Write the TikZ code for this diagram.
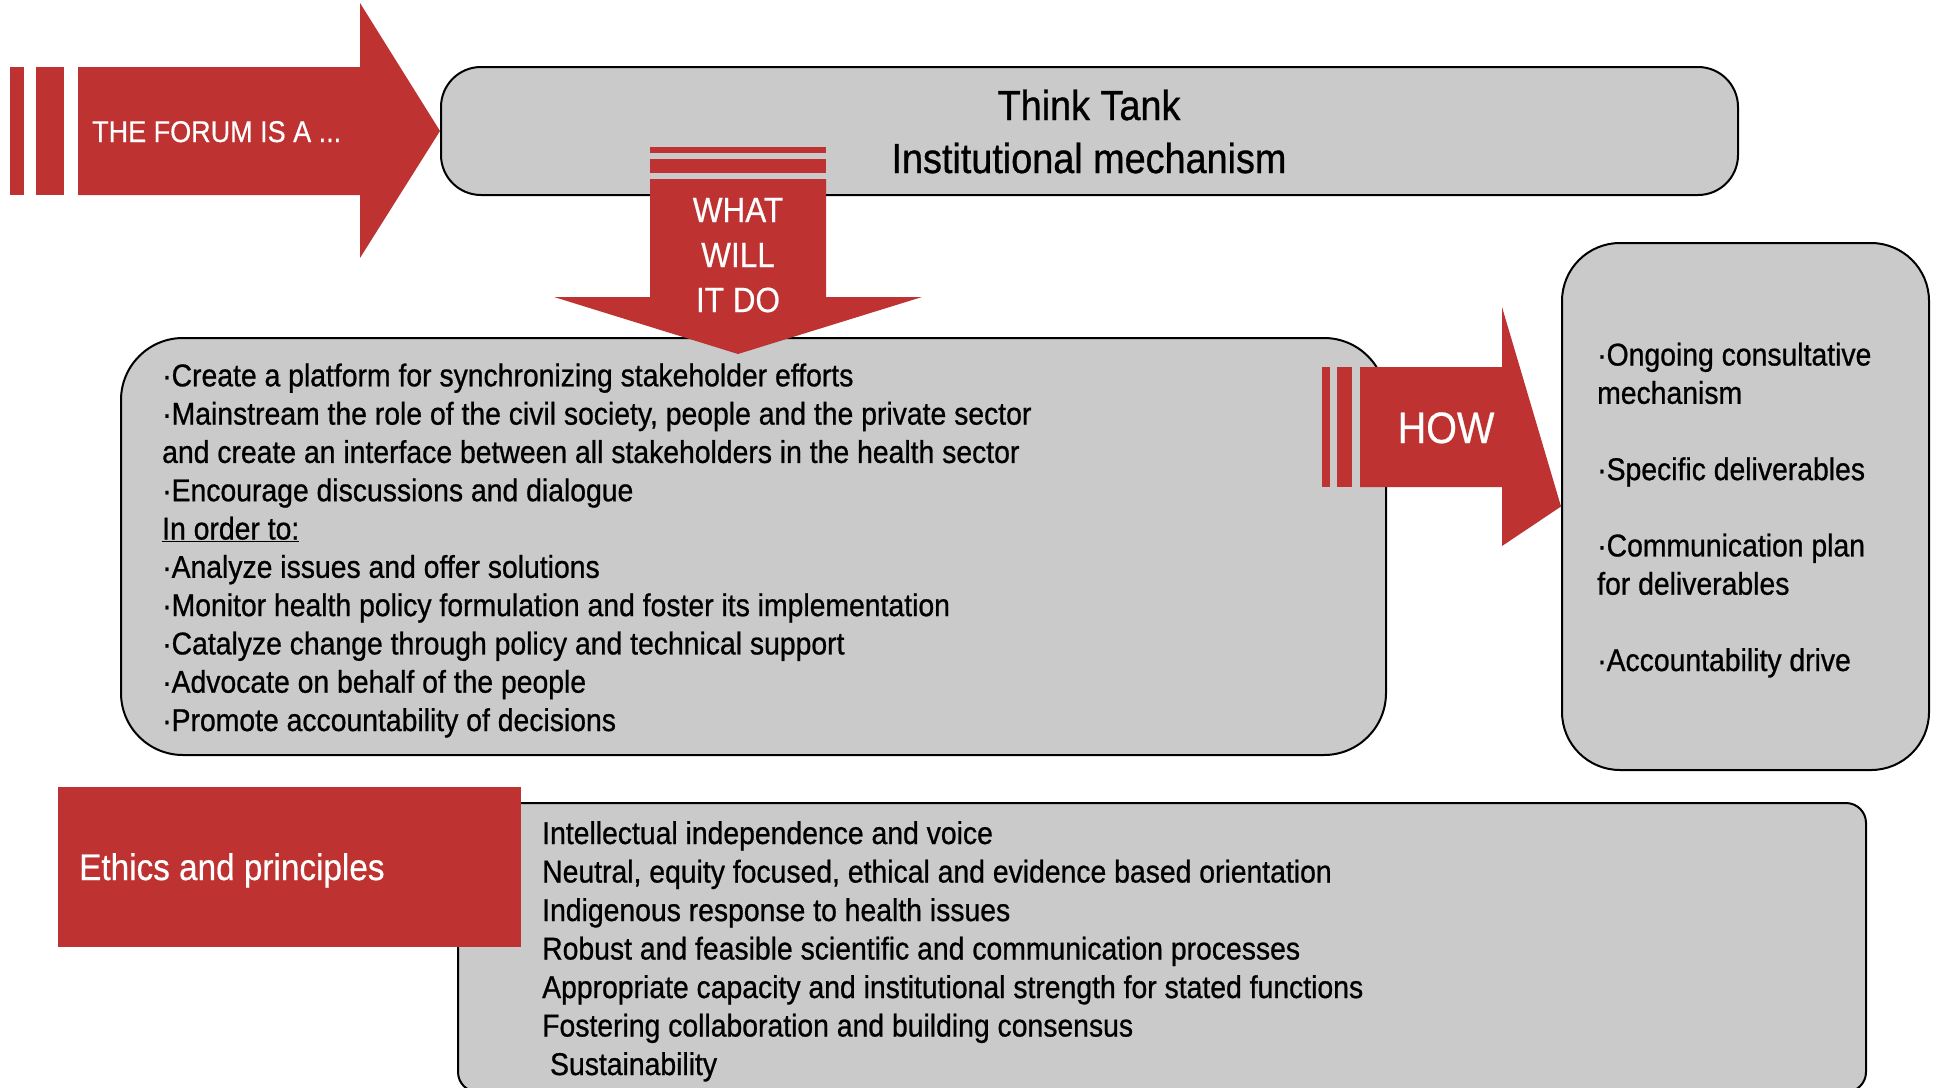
\documentclass[tikz,border=0pt]{standalone}
\usepackage{fontspec}
\setmainfont{Liberation Sans}[FakeStretch=0.9, FakeBold=0.8]
\newfontfamily\labelfont{Liberation Sans}[FakeStretch=0.9, FakeBold=0.5]
\definecolor{forumred}{RGB}{190,50,50}
\definecolor{boxgrey}{RGB}{202,202,202}
\tikzset{
  greybox/.style={draw=black, line width=2pt, fill=boxgrey, inner sep=0pt},
  redbox/.style={fill=forumred, inner sep=0pt},
  listtext/.style={anchor=base west, align=left, inner sep=0pt, font=\fontsize{31.5}{38.3}\selectfont},
  redlabel/.style={text=white, inner sep=0pt}
}
\begin{document}
\begin{tikzpicture}[x=1pt, y=-1pt]
  \clip (0,0) rectangle (1937,1087);

  % Define boxes
  \node (thinktank) [greybox, rounded corners=40pt, minimum width=1297pt, minimum height=128pt] at (1089.5,131) {};
  \node (actions) [greybox, rounded corners=62pt, minimum width=1265pt, minimum height=417pt] at (753.5,546.5) {};
  \node (means) [greybox, rounded corners=58pt, minimum width=367pt, minimum height=527pt] at (1745.5,506.5) {};
  \node (principles) [greybox, rounded corners=20pt, minimum width=1408pt, minimum height=289pt] at (1162,947.5) {};
  \node (ethics) [redbox, minimum width=463pt, minimum height=160pt] at (289.5,867) {};

  % Draw block arrows
  \fill[forumred] (10,67) rectangle (24,195);
  \fill[forumred] (36,67) rectangle (64,195);
  \fill[forumred] (78,67) -- (360,67) -- (360,3) -- (thinktank.west) -- (360,258) -- (360,195) -- (78,195) -- cycle;

  \fill[forumred] (650,147) rectangle (826,153);
  \fill[forumred] (650,159) rectangle (826,173);
  \fill[forumred] (650,179) -- (826,179) -- (826,297) -- (922,297) -- (738,354) -- (554,297) -- (650,297) -- cycle;

  \fill[forumred] (1322,367) rectangle (1330,487);
  \fill[forumred] (1337,367) rectangle (1352,487);
  \fill[forumred] (1360,367) -- (1502,367) -- (1502,307) -- (means.west) -- (1502,546) -- (1502,487) -- (1360,487) -- cycle;

  % Labels (multi-line nodes sit on their last baseline)
  \node (forumtext) [redlabel, anchor=base west, font=\labelfont\fontsize{30}{36}\selectfont] at (92,142) {THE FORUM IS A ...};
  \node (thinktanktext) [anchor=base, align=center, inner sep=0pt, font=\fontsize{42}{53}\selectfont] at (1089,173) {Think Tank\\Institutional mechanism};
  \node (whattext) [redlabel, anchor=base, align=center, font=\labelfont\fontsize{35}{45}\selectfont] at (738,312) {WHAT\\WILL\\IT DO};
  \node (howtext) [redlabel, anchor=base, font=\labelfont\fontsize{44}{50}\selectfont] at (1446,443) {HOW};
  \node (ethicstext) [redlabel, anchor=base west, font=\labelfont\fontsize{37}{42}\selectfont] at (79,880) {Ethics and principles};

  \node (actionstext) [listtext] at (162,731) {·Create a platform for synchronizing stakeholder efforts\\
    ·Mainstream the role of the civil society, people and the private sector\\
    and create an interface between all stakeholders in the health sector\\
    ·Encourage discussions and dialogue\\
    \underline{In order to:}\\
    ·Analyze issues and offer solutions\\
    ·Monitor health policy formulation and foster its implementation\\
    ·Catalyze change through policy and technical support\\
    ·Advocate on behalf of the people\\
    ·Promote accountability of decisions};

  \node (meanstext) [listtext] at (1597,671) {·Ongoing consultative\\
    mechanism\\[38pt]
    ·Specific deliverables\\[38pt]
    ·Communication plan\\
    for deliverables\\[38pt]
    ·Accountability drive};

  \node (principlestext) [listtext, font=\fontsize{31.5}{38.5}\selectfont] at (542,1075) {Intellectual independence and voice\\
    Neutral, equity focused, ethical and evidence based orientation\\
    Indigenous response to health issues\\
    Robust and feasible scientific and communication processes\\
    Appropriate capacity and institutional strength for stated functions\\
    Fostering collaboration and building consensus\\
    \ Sustainability};
\end{tikzpicture}
\end{document}
